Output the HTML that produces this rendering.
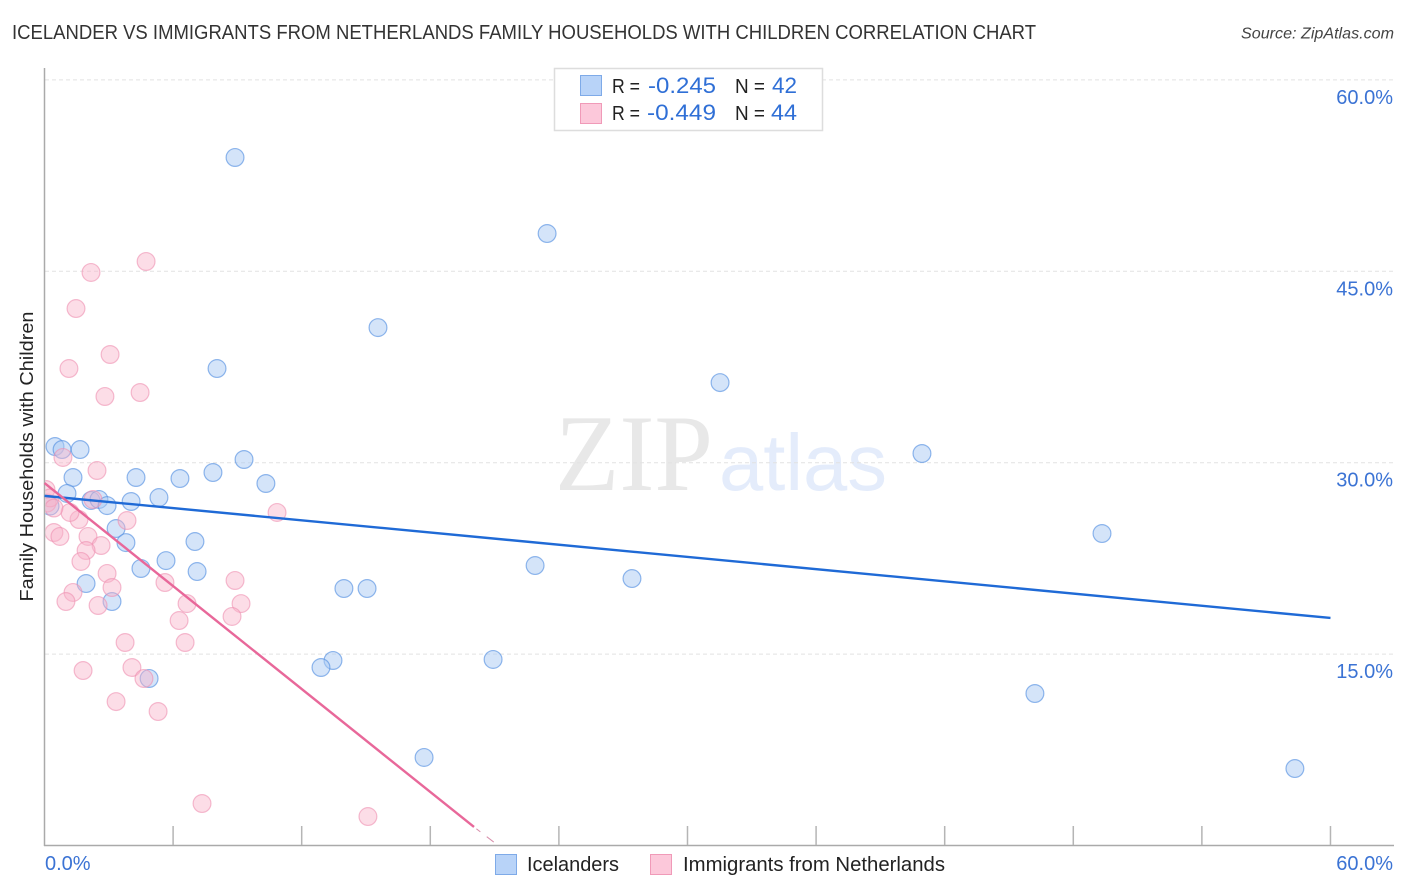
<!DOCTYPE html>
<html>
<head>
<meta charset="utf-8">
<title>Icelander vs Immigrants from Netherlands Family Households with Children Correlation Chart</title>
<style>
html,body{margin:0;padding:0;background:#fff;width:1406px;height:892px;overflow:hidden}
svg{display:block}
text{font-family:"Liberation Sans",sans-serif}
</style>
</head>
<body>
<svg id="chart" width="1406" height="892" viewBox="0 0 1406 892" xmlns="http://www.w3.org/2000/svg">
  <defs><clipPath id="plot-clip"><rect x="45.5" y="60" width="1350" height="785"/></clipPath></defs>
  <text x="12" y="39" font-size="20" fill="#333" textLength="1024" lengthAdjust="spacingAndGlyphs">ICELANDER VS IMMIGRANTS FROM NETHERLANDS FAMILY HOUSEHOLDS WITH CHILDREN CORRELATION CHART</text>
  <text x="1394" y="38.5" font-size="16.1" font-style="italic" fill="#444" text-anchor="end">Source: ZipAtlas.com</text>
  <g>
    <text x="555" y="490" font-size="109" fill="#e8e8e8" style="font-family:'Liberation Serif',serif" textLength="158" lengthAdjust="spacingAndGlyphs">ZIP</text>
    <text x="719" y="490" font-size="80" fill="#e4ecfb" textLength="168" lengthAdjust="spacingAndGlyphs">atlas</text>
  </g>
  <g id="grid"></g>
  <g id="axes"></g>
  <g id="blue-points" clip-path="url(#plot-clip)"></g>
  <g id="pink-points" clip-path="url(#plot-clip)"></g>
  <g id="trends"></g>
  <g id="labels"></g>
  <text transform="translate(33,456.5) rotate(-90)" font-size="18.5" fill="#222" text-anchor="middle" textLength="290" lengthAdjust="spacingAndGlyphs">Family Households with Children</text>

  <g>
    <rect x="554.5" y="68.5" width="268" height="62" fill="#fff" stroke="#ddd" stroke-width="1.5"/>
    <rect x="580.5" y="75.5" width="21" height="20" fill="#b8d3f8" stroke="#7eaae8" stroke-width="1"/>
    <rect x="580.5" y="103.5" width="21" height="20" fill="#fcc8da" stroke="#f09ab8" stroke-width="1"/>
    <text x="612" y="93" font-size="20" fill="#222" textLength="28" lengthAdjust="spacingAndGlyphs">R =</text>
    <text x="648" y="93" font-size="22" fill="#2f6fd6" textLength="68" lengthAdjust="spacingAndGlyphs">-0.245</text>
    <text x="735" y="93" font-size="20" fill="#222" textLength="30" lengthAdjust="spacingAndGlyphs">N =</text>
    <text x="772" y="93" font-size="22" fill="#2f6fd6" textLength="25" lengthAdjust="spacingAndGlyphs">42</text>
    <text x="612" y="120" font-size="20" fill="#222" textLength="28" lengthAdjust="spacingAndGlyphs">R =</text>
    <text x="647" y="120" font-size="22" fill="#2f6fd6" textLength="69" lengthAdjust="spacingAndGlyphs">-0.449</text>
    <text x="735" y="120" font-size="20" fill="#222" textLength="30" lengthAdjust="spacingAndGlyphs">N =</text>
    <text x="771" y="120" font-size="22" fill="#2f6fd6" textLength="26" lengthAdjust="spacingAndGlyphs">44</text>
  </g>

  <g>
    <rect x="495.5" y="854.5" width="21" height="20" fill="#b8d3f8" stroke="#7eaae8" stroke-width="1"/>
    <text x="527" y="871" font-size="20" fill="#222" textLength="92" lengthAdjust="spacingAndGlyphs">Icelanders</text>
    <rect x="650.5" y="854.5" width="21" height="20" fill="#fcc8da" stroke="#f09ab8" stroke-width="1"/>
    <text x="683" y="871" font-size="20" fill="#222" textLength="262" lengthAdjust="spacingAndGlyphs">Immigrants from Netherlands</text>
  </g>
</svg>
<script>
var yTickValues = [15, 30, 45, 60];
var yTickLabels = ["15.0%", "30.0%", "45.0%", "60.0%"];
var xTickValues = [6, 12, 18, 24, 30, 36, 42, 48, 54, 60];
var xEndValues = [0, 60];
var xEndLabels = ["0.0%", "60.0%"];

var blueX = [8.89,23.45,15.56,8.05,31.52,40.94,0.49,0.82,1.66,9.31,7.86,1.33,4.27,6.32,10.33,1.05,5.34,2.17,2.54,2.92,4.04,0.26,3.34,49.34,3.80,7.02,5.67,22.89,7.12,4.50,27.41,1.94,13.97,15.05,3.15,13.46,12.90,20.93,4.88,46.21,17.71,58.34];
var blueY = [53.92,47.96,40.59,37.38,36.28,30.72,31.27,31.03,31.03,30.25,29.23,28.84,28.84,28.76,28.37,27.59,27.27,27.04,27.12,26.64,26.96,26.6,24.84,24.45,23.74,23.82,22.33,21.94,21.47,21.71,20.92,20.53,20.14,20.14,19.12,14.5,13.95,14.58,13.09,11.91,6.9,6.03];

var pinkX = [4.74,2.17,1.47,3.06,1.14,2.82,4.46,0.86,2.45,0.07,2.26,10.85,3.85,1.61,1.19,0.44,0.72,2.03,2.64,1.94,1.70,2.92,3.15,5.62,8.89,1.33,1.00,2.50,6.65,9.17,6.28,8.75,3.76,6.56,1.80,4.08,4.64,3.34,5.30,7.35,15.09,0.12,0.26,0.44];
var pinkY = [45.77,44.91,42.08,38.48,37.38,35.19,35.5,30.41,29.39,27.9,27.12,26.1,25.47,25.55,26.1,24.53,24.22,24.22,23.51,23.12,22.26,21.32,20.22,20.61,20.77,19.83,19.12,18.81,18.96,18.96,17.63,17.95,15.91,15.91,13.71,13.95,13.09,11.28,10.5,3.29,2.27,26.84,27.24,26.45];

var blueTrendX = [0, 60];
var blueTrendY = [27.4, 17.83];
var pinkTrendX = [0, 20.04];
var pinkTrendY = [28.4, 1.45];
var pinkTrendDashX = [20.04, 20.96];
var pinkTrendDashY = [1.45, 0.27];

var NS = "http://www.w3.org/2000/svg";
function xPos(v) { return 44.5 + v * 21.433; }
function yPos(v) { return 845.5 - v * 12.76; }
function make(tag, attrs, parent) {
  var el = document.createElementNS(NS, tag);
  for (var k in attrs) el.setAttribute(k, attrs[k]);
  parent.appendChild(el);
  return el;
}
var grid = document.getElementById("grid");
var axes = document.getElementById("axes");
var labels = document.getElementById("labels");

yTickValues.forEach(function (v, i) {
  var gl = make("line", {x1: 45, x2: 1393, y1: yPos(v), y2: yPos(v), stroke: "#e2e2e2", "stroke-width": 1, "stroke-dasharray": "4 3"}, grid);
  
  
  var t = make("text", {x: 1393, y: yPos(v) + 24, "font-size": 20, fill: "#3b73d4", "text-anchor": "end"}, labels);
  t.textContent = yTickLabels[i];
  
  
});

var yAxis = make("line", {x1: 44.5, x2: 44.5, y1: 68, y2: 846, stroke: "#aaa", "stroke-width": 1.5}, axes);


var xAxis = make("line", {x1: 44, x2: 1394, y1: 845.5, y2: 845.5, stroke: "#aaa", "stroke-width": 1.5}, axes);



xTickValues.forEach(function (v) {
  var tk = make("line", {x1: xPos(v), x2: xPos(v), y1: 826, y2: 845, stroke: "#b5b5b5", "stroke-width": 1.5}, axes);
  
  
});

xEndValues.forEach(function (v, i) {
  var first = i === 0;
  var t = make("text", {x: first ? xPos(v) + 0.5 : 1393, y: 870, "font-size": 20, fill: "#3b73d4", "text-anchor": first ? "start" : "end"}, labels);
  t.textContent = xEndLabels[i];
  
  
});

var blueGroup = document.getElementById("blue-points");
blueX.forEach(function (v, i) {
  var c = make("circle", {cx: xPos(v), cy: yPos(blueY[i]), r: 8.9, fill: "#a9c9f4", "fill-opacity": 0.5, stroke: "#4f8ce0", "stroke-opacity": 0.62, "stroke-width": 1.2}, blueGroup);
  
  
});
var pinkGroup = document.getElementById("pink-points");
pinkX.forEach(function (v, i) {
  var c = make("circle", {cx: xPos(v), cy: yPos(pinkY[i]), r: 8.9, fill: "#f9b4ca", "fill-opacity": 0.45, stroke: "#ee8fb0", "stroke-opacity": 0.6, "stroke-width": 1.2}, pinkGroup);
  
  
});

var trends = document.getElementById("trends");
var bl = make("line", {x1: xPos(blueTrendX[0]), y1: yPos(blueTrendY[0]), x2: xPos(blueTrendX[1]), y2: yPos(blueTrendY[1]), stroke: "#1f6ad6", "stroke-width": 2.4}, trends);


var pl = make("line", {x1: xPos(pinkTrendX[0]), y1: yPos(pinkTrendY[0]), x2: xPos(pinkTrendX[1]), y2: yPos(pinkTrendY[1]), stroke: "#e8689a", "stroke-width": 2.4}, trends);


var pd = make("line", {x1: xPos(pinkTrendDashX[0]), y1: yPos(pinkTrendDashY[0]), x2: xPos(pinkTrendDashX[1]), y2: yPos(pinkTrendDashY[1]), stroke: "#d88fab", "stroke-width": 1, "stroke-dasharray": "0 3 5 8 9 10"}, trends);


</script>
</body>
</html>
